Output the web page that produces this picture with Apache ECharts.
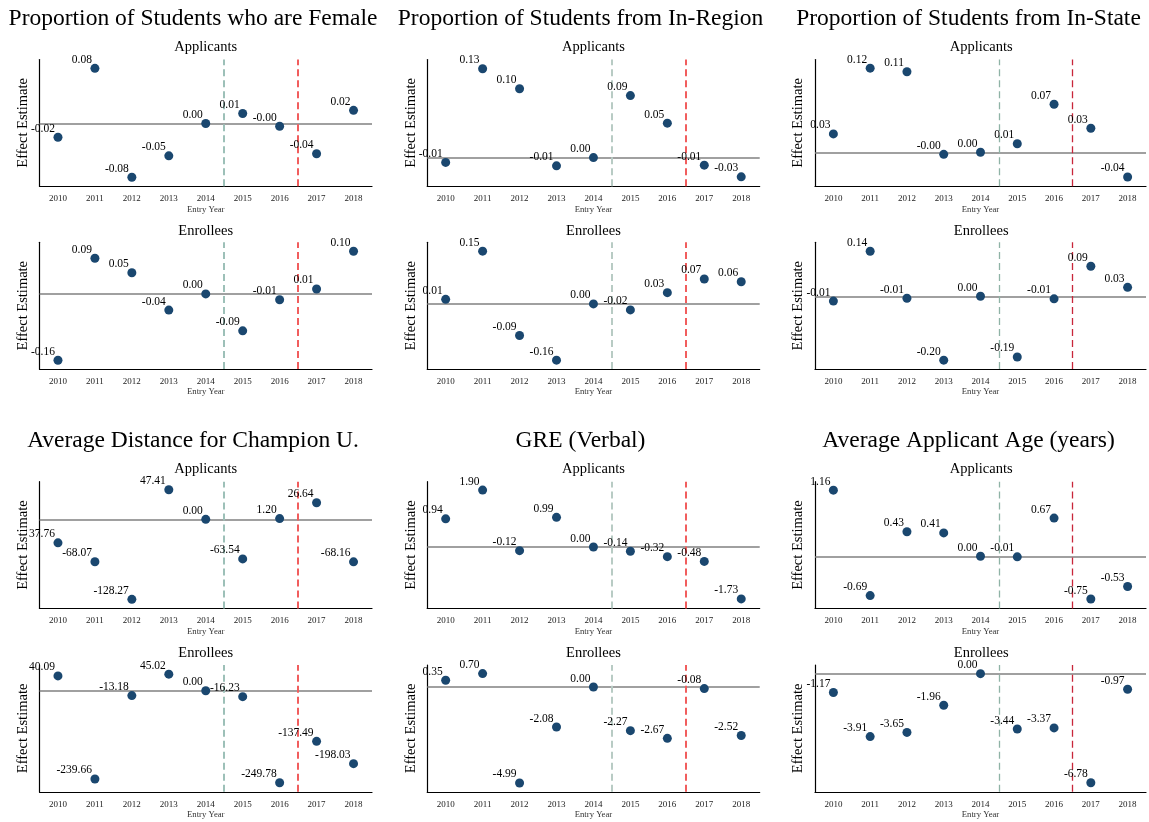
<!DOCTYPE html>
<html>
<head>
<meta charset="utf-8">
<script src="https://cdn.jsdelivr.net/npm/echarts@6/dist/echarts.min.js"></script>
<style>
html,body{margin:0;padding:0;background:#fff;}
#chart{width:1149px;height:822px;}
</style>
</head>
<body>
<div id="chart"></div>
<script>
// ---------- data ----------
const years = [2010, 2011, 2012, 2013, 2014, 2015, 2016, 2017, 2018];
const cutoffYears = [2014.5, 2016.5];

const femaleApplicants = [-0.020, 0.080, -0.078, -0.047, 0.000, 0.0145, -0.004, -0.044, 0.019];
const femaleApplicantsLabels = ['-0.02', '0.08', '-0.08', '-0.05', '0.00', '0.01', '-0.00', '-0.04', '0.02'];
const femaleEnrollees = [-0.160, 0.086, 0.051, -0.039, 0.000, -0.089, -0.014, 0.012, 0.103];
const femaleEnrolleesLabels = ['-0.16', '0.09', '0.05', '-0.04', '0.00', '-0.09', '-0.01', '0.01', '0.10'];

const inRegionApplicants = [-0.007, 0.129, 0.100, -0.012, 0.000, 0.090, 0.050, -0.011, -0.028];
const inRegionApplicantsLabels = ['-0.01', '0.13', '0.10', '-0.01', '0.00', '0.09', '0.05', '-0.01', '-0.03'];
const inRegionEnrollees = [0.013, 0.150, -0.090, -0.160, 0.000, -0.017, 0.032, 0.071, 0.063];
const inRegionEnrolleesLabels = ['0.01', '0.15', '-0.09', '-0.16', '0.00', '-0.02', '0.03', '0.07', '0.06'];

const inStateApplicants = [0.026, 0.119, 0.114, -0.003, 0.000, 0.012, 0.068, 0.034, -0.035];
const inStateApplicantsLabels = ['0.03', '0.12', '0.11', '-0.00', '0.00', '0.01', '0.07', '0.03', '-0.04'];
const inStateEnrollees = [-0.015, 0.141, -0.006, -0.200, 0.000, -0.190, -0.008, 0.094, 0.028];
const inStateEnrolleesLabels = ['-0.01', '0.14', '-0.01', '-0.20', '0.00', '-0.19', '-0.01', '0.09', '0.03'];

const distanceApplicants = [-37.76, -68.07, -128.27, 47.41, 0.00, -63.54, 1.20, 26.64, -68.16];
const distanceApplicantsLabels = ['37.76', '-68.07', '-128.27', '47.41', '0.00', '-63.54', '1.20', '26.64', '-68.16'];
const distanceEnrollees = [40.09, -239.66, -13.18, 45.02, 0.00, -16.23, -249.78, -137.49, -198.03];
const distanceEnrolleesLabels = ['40.09', '-239.66', '-13.18', '45.02', '0.00', '-16.23', '-249.78', '-137.49', '-198.03'];

const greApplicants = [0.94, 1.90, -0.12, 0.99, 0.00, -0.14, -0.32, -0.48, -1.73];
const greApplicantsLabels = ['0.94', '1.90', '-0.12', '0.99', '0.00', '-0.14', '-0.32', '-0.48', '-1.73'];
const greEnrollees = [0.35, 0.70, -4.99, -2.08, 0.00, -2.27, -2.67, -0.08, -2.52];
const greEnrolleesLabels = ['0.35', '0.70', '-4.99', '-2.08', '0.00', '-2.27', '-2.67', '-0.08', '-2.52'];

const ageApplicants = [1.16, -0.69, 0.43, 0.41, 0.00, -0.01, 0.67, -0.75, -0.53];
const ageApplicantsLabels = ['1.16', '-0.69', '0.43', '0.41', '0.00', '-0.01', '0.67', '-0.75', '-0.53'];
const ageEnrollees = [-1.17, -3.91, -3.65, -1.96, 0.00, -3.44, -3.37, -6.78, -0.97];
const ageEnrolleesLabels = ['-1.17', '-3.91', '-3.65', '-1.96', '0.00', '-3.44', '-3.37', '-6.78', '-0.97'];

const panelTitles = ['Proportion of Students who are Female', 'Proportion of Students from In-Region',
  'Proportion of Students from In-State', 'Average Distance for Champion U.', 'GRE (Verbal)',
  'Average Applicant Age (years)'];
const subTitles = ['Applicants', 'Enrollees'];

// ---------- layout / style ----------
const SERIF = "'Liberation Serif','Times New Roman',serif";
const colLeft = [39.5, 427.2, 815];
const plotW = 332.5;
const rowTops = [[59.5, 242.3], [481.7, 665]];
const plotH = 126.8;
const titleY = [18.5, 440.5];
const subY = [[47, 231.5], [469, 653]];
const titleX = [193, 580.5, 968.5];

const panels = [
  {col: 0, row: 0, sets: [[femaleApplicants, femaleApplicantsLabels, -0.0912, 0.0928], [femaleEnrollees, femaleEnrolleesLabels, -0.1814, 0.1246]], c1: '#9dc0b8', c2: '#f15d5d', w: 2},
  {col: 1, row: 0, sets: [[inRegionApplicants, inRegionApplicantsLabels, -0.0417, 0.1424], [inRegionEnrollees, inRegionEnrolleesLabels, -0.1855, 0.1753]], c1: '#b8cbc4', c2: '#f15d5d', w: 2},
  {col: 2, row: 0, sets: [[inStateApplicants, inStateApplicantsLabels, -0.0482, 0.1313], [inStateEnrollees, inStateEnrolleesLabels, -0.228, 0.169]], c1: '#8fb3a6', c2: '#c8263a', w: 1.3},
  {col: 0, row: 1, sets: [[distanceApplicants, distanceApplicantsLabels, -143, 60.3], [distanceEnrollees, distanceEnrolleesLabels, -274.5, 69.8]], c1: '#9dc0b8', c2: '#f15d5d', w: 2},
  {col: 1, row: 1, sets: [[greApplicants, greApplicantsLabels, -2.05, 2.18], [greEnrollees, greEnrolleesLabels, -5.45, 1.146]], c1: '#b8cbc4', c2: '#f15d5d', w: 2},
  {col: 2, row: 1, sets: [[ageApplicants, ageApplicantsLabels, -0.916, 1.309], [ageEnrollees, ageEnrolleesLabels, -7.34, 0.54]], c1: '#8fb3a6', c2: '#c8263a', w: 1.3}
];

const grid = [], xAxis = [], yAxis = [], series = [], graphic = [];

panels.forEach((p, pi) => {
  graphic.push({type: 'text', x: titleX[p.col], y: titleY[p.row], silent: true,
    style: {text: panelTitles[pi], font: '23.5px ' + SERIF, fill: '#000', textAlign: 'center', textVerticalAlign: 'middle', align: 'center', verticalAlign: 'middle'}});
  p.sets.forEach((s, si) => {
    const gi = grid.length;
    const left = colLeft[p.col];
    const top = rowTops[p.row][si];
    grid.push({left: left, top: top, width: plotW, height: plotH, containLabel: false});
    graphic.push({type: 'text', x: left + plotW / 2, y: subY[p.row][si], silent: true,
      style: {text: subTitles[si], font: '14.5px ' + SERIF, fill: '#000', textAlign: 'center', textVerticalAlign: 'middle', align: 'center', verticalAlign: 'middle'}});
    xAxis.push({
      gridIndex: gi, type: 'value', min: 2009.5, max: 2018.5, interval: 0.5,
      axisLine: {show: true, onZero: false, lineStyle: {color: '#000', width: 1.2}},
      axisTick: {show: false}, splitLine: {show: false},
      axisLabel: {show: true, margin: 8, fontSize: 9, fontFamily: SERIF, color: '#222',
        formatter: v => (Math.abs(v - Math.round(v)) < 1e-9 ? String(Math.round(v)) : '')},
      name: 'Entry Year', nameLocation: 'middle', nameGap: 18.5,
      nameTextStyle: {fontSize: 8.7, fontFamily: SERIF, color: '#333'}
    });
    yAxis.push({
      gridIndex: gi, type: 'value', min: s[2], max: s[3],
      axisLine: {show: true, onZero: false, lineStyle: {color: '#000', width: 1.2}},
      axisTick: {show: false}, splitLine: {show: false}, axisLabel: {show: false},
      name: 'Effect Estimate', nameLocation: 'middle', nameGap: 9,
      nameTextStyle: {fontSize: 14.5, fontFamily: SERIF, color: '#000'}
    });
    // reference lines
    series.push({
      type: 'line', xAxisIndex: gi, yAxisIndex: gi, data: [], z: 1, silent: true,
      markLine: {
        silent: true, symbol: 'none', label: {show: false}, animation: false,
        data: [
          {yAxis: 0, lineStyle: {color: '#808080', type: 'solid', width: 1.5}},
          {xAxis: cutoffYears[0], lineStyle: {color: p.c1, type: [7, 4], width: p.w}},
          {xAxis: cutoffYears[1], lineStyle: {color: p.c2, type: [7, 4], width: p.w}}
        ]
      }
    });
    const labels = s[1];
    series.push({
      type: 'scatter', xAxisIndex: gi, yAxisIndex: gi, z: 5,
      data: years.map((y, i) => [y, s[0][i]]),
      symbol: 'circle', symbolSize: 9,
      itemStyle: {color: '#1a476f', opacity: 1},
      label: {show: true, position: [1.5, -4], align: 'right', verticalAlign: 'middle',
        fontSize: 11.5, fontFamily: SERIF, color: '#000',
        formatter: prm => labels[prm.dataIndex]},
      labelLayout: {hideOverlap: false},
      emphasis: {disabled: true}
    });
  });
});

const chart = echarts.init(document.getElementById('chart'), null, {renderer: 'canvas'});
chart.setOption({
  backgroundColor: '#fff',
  animation: false,
  grid: grid, xAxis: xAxis, yAxis: yAxis, series: series, graphic: graphic
});
</script>
</body>
</html>
